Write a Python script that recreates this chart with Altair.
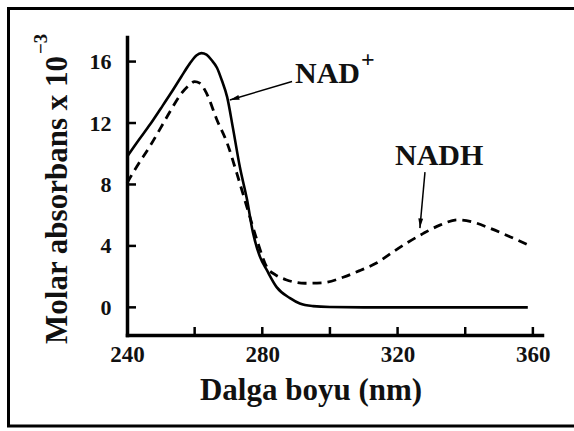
import altair as alt
import pandas as pd

# NAD+ (solid) spectrum
nad_nm = [240, 243, 246.8, 250, 253, 256, 258.5, 260.5, 262, 263.5, 265, 266.6, 268, 269.6,
          271.3, 273.4, 275.5, 277.2, 279.3, 281.4, 284.3, 288.2, 291.1, 295, 300, 310, 320, 340, 358.5]
nad_val = [9.8, 10.75, 11.9, 12.95, 13.95, 15.0, 15.85, 16.4, 16.55, 16.45, 16.1, 15.6, 14.8, 13.7,
           11.7, 9.1, 7.0, 4.9, 3.3, 2.4, 1.3, 0.6, 0.25, 0.08, 0.02, 0, 0, 0, 0]

# NADH (dashed) spectrum
nadh_nm = [240, 243, 246.8, 250, 253, 256, 258.6, 260, 261.5, 263.6, 266.6, 269.6, 272.5, 275.5,
           278.4, 281.4, 284, 287, 292.6, 298, 303.9, 308.9, 313.9, 318.6, 322.8, 327.5, 332.5,
           337.8, 342.3, 347.3, 353.2, 358.2]
nadh_val = [8.1, 9.2, 10.5, 11.7, 12.85, 13.9, 14.5, 14.7, 14.6, 13.9, 12.2, 10.7, 8.7, 6.5,
            4.4, 2.6, 2.1, 1.8, 1.57, 1.6, 1.96, 2.4, 2.9, 3.6, 4.2, 4.8, 5.35,
            5.7, 5.55, 5.15, 4.6, 4.1]

x_tick_values = [260, 280, 300, 320, 340, 360]
x_label_values = [240, 280, 320, 360]
y_tick_values = [0, 4, 8, 12, 16]

# annotation arrows (start -> head), in data units
arrow_x = [288.8, 328.1]
arrow_y = [14.7, 8.8]
arrow_x2 = [270.4, 326.6]
arrow_y2 = [13.5, 5.16]
arrow_angle = [254, 185]

W, H = 415, 298
FONT = "Liberation Serif"

xs = alt.Scale(domain=[240, 362.7], nice=False, zero=False)
ys = alt.Scale(domain=[-1.8, 17.6], nice=False, zero=False)

x_axis = alt.Axis(values=x_label_values, ticks=False, tickSize=0, grid=False, title=None,
                  domainColor="black", domainWidth=3.5, domainCap="square",
                  labelFont=FONT, labelFontWeight="bold", labelFontSize=23, labelColor="#111",
                  labelPadding=8, labelFlush=False)
y_axis = alt.Axis(values=y_tick_values, ticks=False, tickSize=0, grid=False, title=None,
                  domainColor="black", domainWidth=3.5, domainCap="square",
                  labelFont=FONT, labelFontWeight="bold", labelFontSize=22, labelColor="#111",
                  labelPadding=16)


def X(f):
    return alt.X(f, type="quantitative", scale=xs, axis=x_axis)


def Y(f):
    return alt.Y(f, type="quantitative", scale=ys, axis=y_axis)


nad_df = pd.DataFrame({"nm": nad_nm, "v": nad_val})
nadh_df = pd.DataFrame({"nm": nadh_nm, "v": nadh_val})

nad_line = alt.Chart(nad_df).mark_line(color="black", strokeWidth=2.6, interpolate="monotone").encode(
    x=X("nm"), y=Y("v"))
nadh_line = alt.Chart(nadh_df).mark_line(color="black", strokeWidth=2.8, strokeDash=[9, 6],
                                         interpolate="monotone").encode(x=X("nm"), y=Y("v"))

xt = alt.Chart(pd.DataFrame({"t": x_tick_values})).mark_rule(color="black", strokeWidth=2.5).encode(
    x=X("t"), y=alt.value(H), y2=alt.value(H - 8))
yt = alt.Chart(pd.DataFrame({"t": y_tick_values})).mark_rule(color="black", strokeWidth=2.5).encode(
    y=Y("t"), x=alt.value(0), x2=alt.value(9))

arrows_df = pd.DataFrame({"x": arrow_x, "y": arrow_y, "x2": arrow_x2, "y2": arrow_y2, "a": arrow_angle})
arrow_lines = alt.Chart(arrows_df).mark_rule(color="black", strokeWidth=1.5).encode(
    x=X("x"), y=Y("y"), x2="x2:Q", y2="y2:Q")
arrow_heads = alt.Chart(arrows_df).mark_point(
    shape="M0,0L-0.6,2.4L0.6,2.4Z", filled=True, color="black", opacity=1, size=64).encode(
    x=X("x2"), y=Y("y2"), angle=alt.Angle("a:Q", scale=None))

one = pd.DataFrame({"k": [0]})
frame = alt.Chart(one).mark_rect(fillOpacity=0, stroke="black", strokeWidth=3).encode(
    x=alt.value(-118.5), x2=alt.value(453), y=alt.value(-28.5), y2=alt.value(389))


def txt(s, x, y, size, angle=0, align="left", baseline="alphabetic"):
    return alt.Chart(one).mark_text(text=s, font=FONT, fontWeight="bold", fontSize=size,
                                    color="#111", angle=angle, align=align,
                                    baseline=baseline).encode(x=alt.value(x), y=alt.value(y))


texts = [
    txt("Dalga boyu (nm)", 184, 363, 31, align="center"),
    txt("Molar absorbans x 10", -60, 163, 31, angle=270, align="center"),
    txt("\u22123", -80, 17, 19, angle=270, align="left"),
    txt("NAD", 168, 46, 30),
    txt("+", 234, 30, 24),
    txt("NADH", 268, 128, 30),
]

chart = alt.layer(nad_line, nadh_line, xt, yt, arrow_lines, arrow_heads, frame, *texts).properties(
    width=W, height=H, autosize="none",
    padding={"left": 127, "top": 37, "right": 574 - 127 - W, "bottom": 431 - 37 - H},
    background="white",
).configure_view(stroke=None)

chart.save("out.html", embed_options={"renderer": "svg", "actions": False})
